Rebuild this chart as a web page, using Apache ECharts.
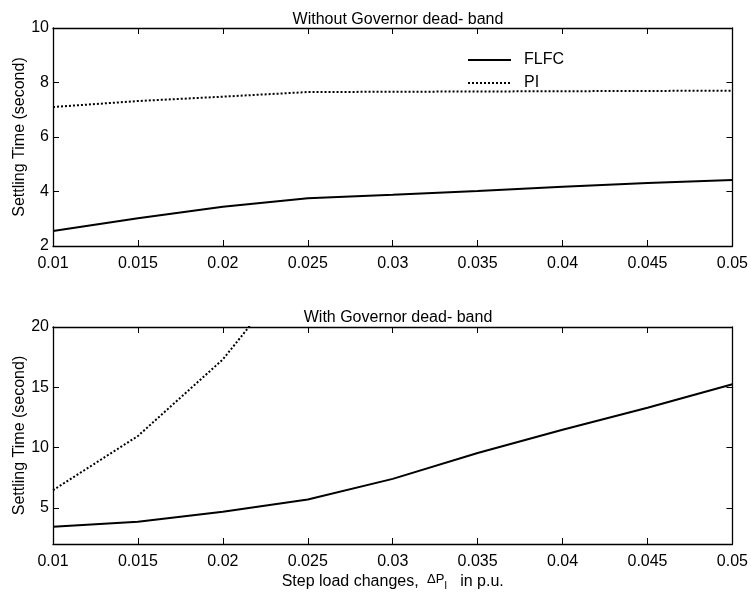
<!DOCTYPE html>
<html><head><meta charset="utf-8">
<script src="https://cdn.jsdelivr.net/npm/echarts@6/dist/echarts.min.js"></script>
<style>html,body{margin:0;padding:0;background:#fff}#c{width:751px;height:594px}</style>
</head><body><div id="c"></div>
<script>
const xVals = [0.01, 0.015, 0.02, 0.025, 0.03, 0.035, 0.04, 0.045, 0.05];
const flfcNoDeadband = [2.55, 3.02, 3.44, 3.75, 3.88, 4.02, 4.17, 4.31, 4.42];
const piNoDeadband = [7.10, 7.32, 7.48, 7.65, 7.66, 7.67, 7.68, 7.69, 7.70];
const flfcDeadband = [3.43, 3.84, 4.67, 5.69, 7.40, 9.55, 11.48, 13.30, 15.25];
const piDeadbandX = [0.01, 0.015, 0.02, 0.025];
const piDeadband = [6.46, 10.96, 17.31, 26.1];
const titles = ['Without Governor dead- band', 'With Governor dead- band'];
const yTicksBottom = [5, 10, 15, 20];

const FONT = 'Liberation Sans, Arial, sans-serif';
const FS = 16;
const pair = (xs, ys) => xs.map((x, i) => [x, ys[i]]);
const axLine = { show: true, lineStyle: { color: '#000', width: 1.3 } };
const tickIn = { show: true, inside: true, length: 6, lineStyle: { color: '#000', width: 1 } };
const fmtX = v => String(+v.toFixed(3));

const chart = echarts.init(document.getElementById('c'));
chart.setOption({
  animation: false,
  backgroundColor: '#fff',
  textStyle: { fontFamily: FONT },
  title: [
    { text: titles[0], left: 393, top: 7, textAlign: 'center', textStyle: { fontSize: FS, fontWeight: 'normal', color: '#000', fontFamily: FONT } },
    { text: titles[1], left: 393, top: 305, textAlign: 'center', textStyle: { fontSize: FS, fontWeight: 'normal', color: '#000', fontFamily: FONT } }
  ],
  legend: {
    data: ['FLFC', 'PI'],
    orient: 'vertical', left: 462, top: 47,
    itemWidth: 43, itemHeight: 14, itemGap: 7,
    itemStyle: { opacity: 0 },
    textStyle: { fontSize: FS, color: '#000', fontFamily: FONT, padding: [0, 0, 0, 8] },
    inactiveColor: '#000'
  },
  grid: [
    { left: 53, right: 18, top: 28, height: 218, containLabel: false },
    { left: 53, right: 18, top: 327, height: 217, containLabel: false }
  ],
  xAxis: [
    { type: 'value', gridIndex: 0, min: 0.01, max: 0.05, interval: 0.005, position: 'bottom',
      axisLine: axLine, axisTick: tickIn, splitLine: { show: false },
      axisLabel: { formatter: fmtX, fontSize: FS, color: '#000', margin: 10, fontFamily: FONT } },
    { type: 'value', gridIndex: 0, min: 0.01, max: 0.05, interval: 0.005, position: 'top',
      axisLine: axLine, axisTick: tickIn, splitLine: { show: false }, axisLabel: { show: false } },
    { type: 'value', gridIndex: 1, min: 0.01, max: 0.05, interval: 0.005, position: 'bottom',
      axisLine: axLine, axisTick: tickIn, splitLine: { show: false },
      axisLabel: { formatter: fmtX, fontSize: FS, color: '#000', margin: 10, fontFamily: FONT },
      name: '{a|Step load changes, }{b|\u0394P}{c|l}{a|   in p.u.}',
      nameLocation: 'middle', nameGap: 29, nameMoveOverlap: false,
      nameTextStyle: { color: '#000', rich: {
        a: { fontSize: FS, fontFamily: FONT, color: '#000', lineHeight: 18, verticalAlign: 'middle' },
        b: { fontSize: 13, fontFamily: FONT, color: '#000', lineHeight: 18, verticalAlign: 'top', padding: [0, 0, 0, 4] },
        c: { fontSize: 11, fontFamily: FONT, color: '#000', lineHeight: 18, verticalAlign: 'bottom' }
      } } },
    { type: 'value', gridIndex: 1, min: 0.01, max: 0.05, interval: 0.005, position: 'top',
      axisLine: axLine, axisTick: tickIn, splitLine: { show: false }, axisLabel: { show: false } }
  ],
  yAxis: [
    { type: 'value', gridIndex: 0, min: 2, max: 10, interval: 2, position: 'left',
      axisLine: axLine, axisTick: tickIn, splitLine: { show: false },
      axisLabel: { fontSize: FS, color: '#000', margin: 4, fontFamily: FONT },
      name: 'Settling Time (second)', nameLocation: 'middle', nameGap: 25, nameRotate: 90, nameMoveOverlap: false,
      nameTextStyle: { fontSize: FS, color: '#000', fontFamily: FONT } },
    { type: 'value', gridIndex: 0, min: 2, max: 10, interval: 2, position: 'right',
      axisLine: axLine, axisTick: tickIn, splitLine: { show: false }, axisLabel: { show: false } },
    { type: 'value', gridIndex: 1, min: 2, max: 20, position: 'left',
      axisLine: axLine, axisTick: Object.assign({}, tickIn, { customValues: yTicksBottom }), splitLine: { show: false },
      axisLabel: { fontSize: FS, color: '#000', margin: 4, fontFamily: FONT, customValues: yTicksBottom },
      name: 'Settling Time (second)', nameLocation: 'middle', nameGap: 25, nameRotate: 90, nameMoveOverlap: false,
      nameTextStyle: { fontSize: FS, color: '#000', fontFamily: FONT } },
    { type: 'value', gridIndex: 1, min: 2, max: 20, position: 'right',
      axisLine: axLine, axisTick: Object.assign({}, tickIn, { customValues: yTicksBottom }), splitLine: { show: false },
      axisLabel: { show: false } }
  ],
  series: [
    { name: 'FLFC', type: 'line', xAxisIndex: 0, yAxisIndex: 0, data: pair(xVals, flfcNoDeadband),
      symbol: 'none', color: '#000', lineStyle: { color: '#000', width: 2, type: 'solid' } },
    { name: 'PI', type: 'line', xAxisIndex: 0, yAxisIndex: 0, data: pair(xVals, piNoDeadband),
      symbol: 'none', color: '#000', lineStyle: { color: '#000', width: 2, type: [2, 2] } },
    { name: 'FLFC', type: 'line', xAxisIndex: 2, yAxisIndex: 2, data: pair(xVals, flfcDeadband),
      symbol: 'none', color: '#000', lineStyle: { color: '#000', width: 2, type: 'solid' } },
    { name: 'PI', type: 'line', xAxisIndex: 2, yAxisIndex: 2, data: pair(piDeadbandX, piDeadband), clip: true,
      symbol: 'none', color: '#000', lineStyle: { color: '#000', width: 2, type: [2, 2] } }
  ]
});
</script></body></html>
